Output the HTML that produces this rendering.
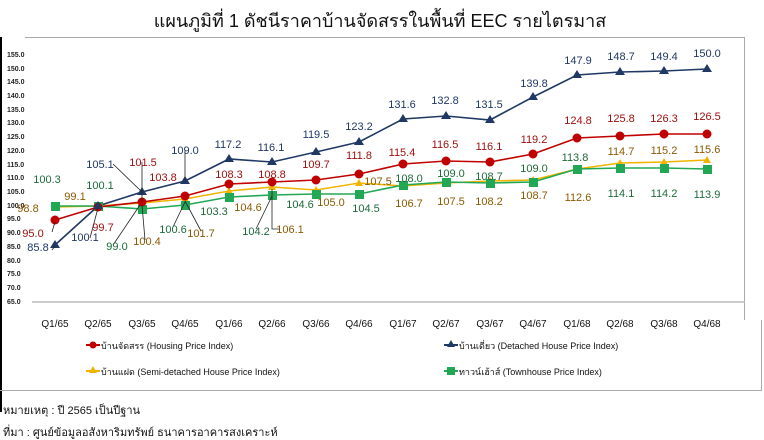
<!DOCTYPE html>
<html><head><meta charset="utf-8"><style>
html,body{margin:0;padding:0;background:#fff;}
svg{display:block;font-family:"Liberation Sans","Noto Sans CJK SC",sans-serif;}
</style></head><body>
<svg width="764" height="440" viewBox="0 0 764 440" xmlns="http://www.w3.org/2000/svg">
<text x="380" y="27" text-anchor="middle" font-size="18" fill="#111">แผนภูมิที่ 1 ดัชนีราคาบ้านจัดสรรในพื้นที่ EEC รายไตรมาส</text>
<line x1="25" y1="37.5" x2="745" y2="37.5" stroke="#aaa"/>
<line x1="744.5" y1="37" x2="744.5" y2="320" stroke="#aaa"/>
<line x1="1" y1="37" x2="1" y2="412" stroke="#000" stroke-width="2"/>
<line x1="0" y1="390.5" x2="762" y2="390.5" stroke="#aaa"/>
<line x1="761.5" y1="320" x2="761.5" y2="391" stroke="#aaa"/>
<line x1="32" y1="302" x2="745" y2="302" stroke="#bbb" stroke-width="1.5"/>
<g font-size="7" font-weight="bold" fill="#222" text-anchor="start">
<text x="7" y="57">155.0</text><text x="7" y="71">150.0</text><text x="7" y="84">145.0</text><text x="7" y="98">140.0</text><text x="7" y="112">135.0</text><text x="7" y="125">130.0</text><text x="7" y="139">125.0</text><text x="7" y="153">120.0</text><text x="7" y="167">115.0</text><text x="7" y="180">110.0</text><text x="7" y="194">105.0</text><text x="7" y="208">100.0</text><text x="7" y="221">95.0</text><text x="7" y="235">90.0</text><text x="7" y="249">85.0</text><text x="7" y="263">80.0</text><text x="7" y="276">75.0</text><text x="7" y="290">70.0</text><text x="7" y="304">65.0</text>
</g>
<g font-size="10" fill="#111" text-anchor="middle">
<text x="55" y="327">Q1/65</text><text x="98" y="327">Q2/65</text><text x="142" y="327">Q3/65</text><text x="185" y="327">Q4/65</text><text x="229" y="327">Q1/66</text><text x="272" y="327">Q2/66</text><text x="316" y="327">Q3/66</text><text x="359" y="327">Q4/66</text><text x="403" y="327">Q1/67</text><text x="446" y="327">Q2/67</text><text x="490" y="327">Q3/67</text><text x="533" y="327">Q4/67</text><text x="577" y="327">Q1/68</text><text x="620" y="327">Q2/68</text><text x="664" y="327">Q3/68</text><text x="707" y="327">Q4/68</text>
</g>
<polyline fill="none" stroke="#f0b400" stroke-width="1.6" points="55,207 98,206 142,203 185,199 229,191 272,187 316,190 359,183 403,186 446,183 490,181 533,180 577,169 620,163 664,162 707,160"/>
<polyline fill="none" stroke="#22a854" stroke-width="1.6" points="55,206 98,206 142,209 185,205 229,197 272,195 316,194 359,194 403,185 446,182 490,183 533,182 577,169 620,168 664,168 707,169"/>
<polyline fill="none" stroke="#c00000" stroke-width="1.6" points="55,220 98,207 142,202 185,196 229,184 272,182 316,180 359,174 403,164 446,161 490,162 533,154 577,138 620,136 664,134 707,134"/>
<polyline fill="none" stroke="#1f3864" stroke-width="1.6" points="55,245 98,206 142,192 185,181 229,159 272,162 316,152 359,142 403,119 446,116 490,120 533,97 577,75 620,72 664,71 707,69"/>
<g fill="#f0b400"><path d="M55,203l4,7h-8z"/><path d="M98,202l4,7h-8z"/><path d="M142,199l4,7h-8z"/><path d="M185,195l4,7h-8z"/><path d="M229,187l4,7h-8z"/><path d="M272,183l4,7h-8z"/><path d="M316,186l4,7h-8z"/><path d="M359,179l4,7h-8z"/><path d="M403,182l4,7h-8z"/><path d="M446,179l4,7h-8z"/><path d="M490,177l4,7h-8z"/><path d="M533,176l4,7h-8z"/><path d="M577,165l4,7h-8z"/><path d="M620,159l4,7h-8z"/><path d="M664,158l4,7h-8z"/><path d="M707,156l4,7h-8z"/></g>
<g fill="#22a854"><rect x="51" y="202" width="9" height="9"/><rect x="94" y="202" width="9" height="9"/><rect x="138" y="205" width="9" height="9"/><rect x="181" y="201" width="9" height="9"/><rect x="225" y="193" width="9" height="9"/><rect x="268" y="191" width="9" height="9"/><rect x="312" y="190" width="9" height="9"/><rect x="355" y="190" width="9" height="9"/><rect x="399" y="181" width="9" height="9"/><rect x="442" y="178" width="9" height="9"/><rect x="486" y="179" width="9" height="9"/><rect x="529" y="178" width="9" height="9"/><rect x="573" y="165" width="9" height="9"/><rect x="616" y="164" width="9" height="9"/><rect x="660" y="164" width="9" height="9"/><rect x="703" y="165" width="9" height="9"/></g>
<g fill="#c00000"><circle cx="55" cy="220" r="4.5"/><circle cx="98" cy="207" r="4.5"/><circle cx="142" cy="202" r="4.5"/><circle cx="185" cy="196" r="4.5"/><circle cx="229" cy="184" r="4.5"/><circle cx="272" cy="182" r="4.5"/><circle cx="316" cy="180" r="4.5"/><circle cx="359" cy="174" r="4.5"/><circle cx="403" cy="164" r="4.5"/><circle cx="446" cy="161" r="4.5"/><circle cx="490" cy="162" r="4.5"/><circle cx="533" cy="154" r="4.5"/><circle cx="577" cy="138" r="4.5"/><circle cx="620" cy="136" r="4.5"/><circle cx="664" cy="134" r="4.5"/><circle cx="707" cy="134" r="4.5"/></g>
<g fill="#1f3864"><path d="M55,240l5,8h-10z"/><path d="M98,201l5,8h-10z"/><path d="M142,187l5,8h-10z"/><path d="M185,176l5,8h-10z"/><path d="M229,154l5,8h-10z"/><path d="M272,157l5,8h-10z"/><path d="M316,147l5,8h-10z"/><path d="M359,137l5,8h-10z"/><path d="M403,114l5,8h-10z"/><path d="M446,111l5,8h-10z"/><path d="M490,115l5,8h-10z"/><path d="M533,92l5,8h-10z"/><path d="M577,70l5,8h-10z"/><path d="M620,67l5,8h-10z"/><path d="M664,66l5,8h-10z"/><path d="M707,64l5,8h-10z"/></g>
<g fill="none" stroke="#222" stroke-width="0.8">
<path d="M52,232l3,-10"/><path d="M52,250l3,-4"/><path d="M90,238l8,-30"/><path d="M113,164l29,28"/><path d="M142,162v40"/><path d="M185,150v30"/><path d="M113,245l27,-40"/><path d="M145,240l-3,-35"/><path d="M173,227l12,-25"/><path d="M201,231l-16,-30"/><path d="M256,229l16,-33"/><path d="M280,229h-8v-40"/>
</g>
<g font-size="11" text-anchor="middle">
<g fill="#1f3864"><text x="38" y="251">85.8</text><text x="85" y="241">100.1</text><text x="100" y="168">105.1</text><text x="185" y="154">109.0</text><text x="228" y="148">117.2</text><text x="271" y="151">116.1</text><text x="316" y="138">119.5</text><text x="359" y="130">123.2</text><text x="402" y="108">131.6</text><text x="445" y="104">132.8</text><text x="489" y="108">131.5</text><text x="534" y="87">139.8</text><text x="578" y="64">147.9</text><text x="621" y="60">148.7</text><text x="664" y="60">149.4</text><text x="707" y="57">150.0</text></g>
<g fill="#a01010"><text x="33" y="237">95.0</text><text x="103" y="231">99.7</text><text x="143" y="166">101.5</text><text x="163" y="181">103.8</text><text x="229" y="178">108.3</text><text x="272" y="178">108.8</text><text x="316" y="168">109.7</text><text x="359" y="159">111.8</text><text x="402" y="156">115.4</text><text x="445" y="148">116.5</text><text x="489" y="150">116.1</text><text x="534" y="143">119.2</text><text x="578" y="124">124.8</text><text x="621" y="122">125.8</text><text x="664" y="122">126.3</text><text x="707" y="120">126.5</text></g>
<g fill="#8b5a00"><text x="28" y="212">98.8</text><text x="75" y="200">99.1</text><text x="147" y="245">100.4</text><text x="201" y="237">101.7</text><text x="248" y="211">104.6</text><text x="290" y="233">106.1</text><text x="331" y="206">105.0</text><text x="378" y="185">107.5</text><text x="409" y="207">106.7</text><text x="451" y="205">107.5</text><text x="489" y="205">108.2</text><text x="534" y="199">108.7</text><text x="578" y="201">112.6</text><text x="621" y="155">114.7</text><text x="664" y="154">115.2</text><text x="707" y="153">115.6</text></g>
<g fill="#1e6b3a"><text x="47" y="183">100.3</text><text x="100" y="189">100.1</text><text x="117" y="250">99.0</text><text x="173" y="233">100.6</text><text x="214" y="215">103.3</text><text x="256" y="235">104.2</text><text x="300" y="208">104.6</text><text x="366" y="212">104.5</text><text x="409" y="182">108.0</text><text x="451" y="177">109.0</text><text x="489" y="180">108.7</text><text x="534" y="172">109.0</text><text x="575" y="161">113.8</text><text x="621" y="197">114.1</text><text x="664" y="197">114.2</text><text x="707" y="198">113.9</text></g>
</g>
<g font-size="9" fill="#111">
<line x1="86" y1="345" x2="100" y2="345" stroke="#c00000" stroke-width="2"/><circle cx="93" cy="345" r="3.5" fill="#c00000"/>
<text x="101" y="349">บ้านจัดสรร (Housing Price Index)</text>
<line x1="444" y1="345" x2="458" y2="345" stroke="#1f3864" stroke-width="2"/><path d="M451,340l4,7h-8z" fill="#1f3864"/>
<text x="459" y="349">บ้านเดี่ยว (Detached House Price Index)</text>
<line x1="86" y1="371" x2="100" y2="371" stroke="#f0b400" stroke-width="2"/><path d="M93,366l4,7h-8z" fill="#f0b400"/>
<text x="101" y="375">บ้านแฝด (Semi-detached House Price Index)</text>
<line x1="444" y1="371" x2="458" y2="371" stroke="#22a854" stroke-width="2"/><rect x="447" y="367" width="8" height="8" fill="#22a854"/>
<text x="459" y="375">ทาวน์เฮ้าส์ (Townhouse Price Index)</text>
</g>
<g font-size="11" fill="#111">
<text x="3" y="414">หมายเหตุ : ปี 2565 เป็นปีฐาน</text>
<text x="3" y="436">ที่มา : ศูนย์ข้อมูลอสังหาริมทรัพย์ ธนาคารอาคารสงเคราะห์</text>
</g>
</svg>
</body></html>
